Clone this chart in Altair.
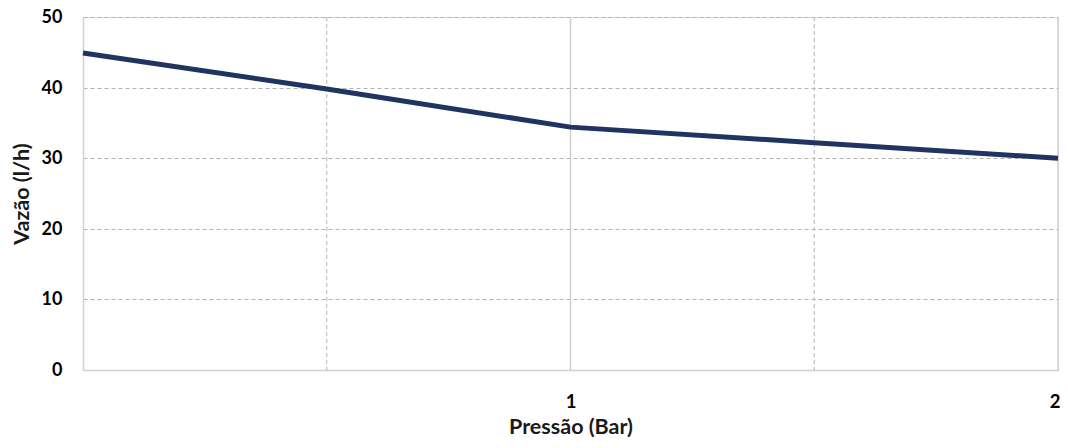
import altair as alt
import pandas as pd

pressao = [0, 0.5, 1, 1.5, 2]
vazao = [44.9, 39.8, 34.4, 32.2, 30.0]
grid_dashed_x = [0.5, 1.5]
grid_solid_x = [1, 2]

df = pd.DataFrame({"x": pressao, "y": vazao})
FONT = "Lato"
GRID = "#b3b3b3"

xscale = alt.Scale(domain=[0, 2], nice=False, zero=False)
yscale = alt.Scale(domain=[0, 50], nice=False)

dashed = alt.Chart(pd.DataFrame({"x": grid_dashed_x})).mark_rule(
    color=GRID, strokeDash=[4, 3], strokeWidth=1
).encode(x=alt.X("x:Q", scale=xscale))

solid = alt.Chart(pd.DataFrame({"x": grid_solid_x})).mark_rule(
    color="#d0d0d0", strokeWidth=1.5
).encode(x=alt.X("x:Q", scale=xscale))

line = alt.Chart(df).mark_line(color="#1f3460", strokeWidth=5).encode(
    x=alt.X(
        "x:Q",
        scale=xscale,
        axis=alt.Axis(
            title="Pressão (Bar)",
            values=[1, 2],
            format="d",
            grid=False,
            ticks=False,
            domainColor="#d0d0d0",
            domainWidth=1.5,
            labelFont=FONT,
            labelFontSize=18.5,
            labelFontWeight="bold",
            labelColor="#000000",
            labelBaseline="middle",
            labelPadding=31,
            labelFlush=True,
            labelFlushOffset=2,
            titleFont=FONT,
            titleFontSize=21.5,
            titleFontWeight="bold",
            titleColor="#1a1a1a",
            titleBaseline="middle",
            titleY=57,
            titleAnchor="middle",
        ),
    ),
    y=alt.Y(
        "y:Q",
        scale=yscale,
        axis=alt.Axis(
            title="Vazão (l/h)",
            values=[0, 10, 20, 30, 40, 50],
            grid=True,
            gridDash=[4, 3],
            gridColor=GRID,
            ticks=False,
            domainColor="#d0d0d0",
            domainWidth=1.5,
            labelFont=FONT,
            labelFontSize=18,
            labelFontWeight="bold",
            labelColor="#000000",
            labelPadding=21,
            labelOffset=0.5,
            titleFont=FONT,
            titleFontSize=21.5,
            titleFontWeight="bold",
            titleColor="#1a1a1a",
            titleBaseline="middle",
            titleX=-61,
        ),
    ),
)

chart = (
    alt.layer(dashed, solid, line)
    .properties(
        width=975,
        height=353,
        autosize=alt.AutoSizeParams(type="none"),
        padding={"left": 75, "top": 9, "right": 2, "bottom": 70},
    )
    .configure_view(stroke=None)
    .configure(background="white")
)

chart.save("out.html", embed_options={"renderer": "svg", "actions": False})
